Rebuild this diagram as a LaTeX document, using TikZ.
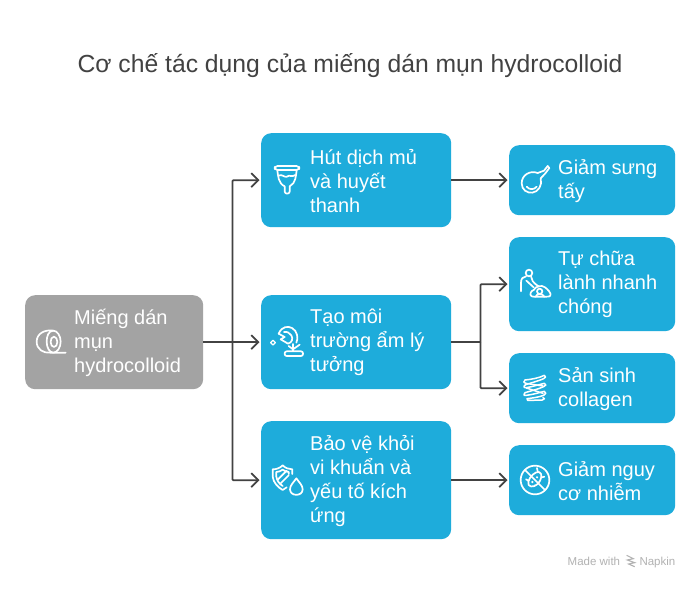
\documentclass[tikz,border=0pt]{standalone}
\usepackage{fontspec}
\setmainfont{Liberation Sans}
\usetikzlibrary{arrows.meta,calc}
\definecolor{bluebox}{HTML}{1EACDB}
\definecolor{graybox}{HTML}{A3A3A3}
\definecolor{linecol}{HTML}{424242}
\tikzset{
  x=1pt,y=-1pt,
  boxbase/.style={rounded corners=10pt,draw=none,inner sep=0pt,anchor=north west},
  bluenode/.style={boxbase,fill=bluebox},
  graynode/.style={boxbase,fill=graybox},
  boxtext/.style={text=white,anchor=west,align=left,inner sep=0pt,yshift=-0.5pt,font=\fontsize{20}{24}\selectfont},
  conn/.style={draw=linecol,line width=1.8pt,shorten >=1.5pt,-{Straight Barb[length=7pt,width=14pt,line width=1.8pt]}},
  connplain/.style={draw=linecol,line width=1.8pt},
  iconline/.style={draw=white,line width=1.7pt,line cap=round,line join=round},
  iconscope/.style={x=0.3333pt,y=-0.3333pt},
  markfont/.style={text=black!30,font=\fontsize{11.5}{13}\selectfont,inner sep=0pt},
}
\begin{document}
\begin{tikzpicture}
\useasboundingbox (0,0) rectangle (700,588);
\fill[white] (0,0) rectangle (700,588);
\node[text=linecol,font=\fontsize{24.7}{28}\selectfont,inner sep=0pt] (title) at (350,66) {Cơ chế tác dụng của miếng dán mụn hydrocolloid};

\node[graynode,minimum width=178pt,minimum height=94pt] (root) at (25,295) {};
\node[bluenode,minimum width=190pt,minimum height=94pt] (a) at (261,133) {};
\node[bluenode,minimum width=190pt,minimum height=94pt] (b) at (261,295) {};
\node[bluenode,minimum width=190pt,minimum height=118pt] (c) at (261,421) {};
\node[bluenode,minimum width=166pt,minimum height=70pt] (r1) at (509,145) {};
\node[bluenode,minimum width=166pt,minimum height=94pt] (r2) at (509,237) {};
\node[bluenode,minimum width=166pt,minimum height=70pt] (r3) at (509,353) {};
\node[bluenode,minimum width=166pt,minimum height=70pt] (r4) at (509,445) {};

\node[boxtext] (roott) at ([xshift=49pt]root.west) {Miếng dán\\mụn\\hydrocolloid};
\node[boxtext] (at) at ([xshift=49pt]a.west) {Hút dịch mủ\\và huyết\\thanh};
\node[boxtext] (bt) at ([xshift=49pt]b.west) {Tạo môi\\trường ẩm lý\\tưởng};
\node[boxtext] (ct) at ([xshift=49pt]c.west) {Bảo vệ khỏi\\vi khuẩn và\\yếu tố kích\\ứng};
\node[boxtext] (r1t) at ([xshift=49pt]r1.west) {Giảm sưng\\tấy};
\node[boxtext] (r2t) at ([xshift=49pt]r2.west) {Tự chữa\\lành nhanh\\chóng};
\node[boxtext] (r3t) at ([xshift=49pt]r3.west) {Sản sinh\\collagen};
\node[boxtext] (r4t) at ([xshift=49pt]r4.west) {Giảm nguy\\cơ nhiễm};

\coordinate (t1) at ($(root.east)+(29,0)$);
\coordinate (t2) at ($(b.east)+(29,0)$);
\draw[conn] (root.east) -- (b.west);
\draw[conn,rounded corners=1pt] (t1) |- (a.west);
\draw[conn,rounded corners=1pt] (t1) |- (c.west);
\draw[conn] (a.east) -- (r1.west);
\draw[connplain] (b.east) -- (t2);
\draw[conn,rounded corners=1pt] (t2) |- (r2.west);
\draw[conn,rounded corners=1pt] (t2) |- (r3.west);
\draw[conn] (c.east) -- (r4.west);

% roll
\begin{scope}[shift={(0,280)},iconscope]
\draw[iconline] (160,152) .. controls (135,148) and (110,160) .. (110,185) .. controls (110,208) and (130,220) .. (150,218) -- (197,218);
\draw[iconline] (160,152) .. controls (145,152) and (140,170) .. (140,185) .. controls (140,202) and (148,218) .. (160,218) .. controls (172,218) and (182,202) .. (182,185) .. controls (182,168) and (172,152) .. (160,152);
\draw[iconline] (162,170) .. controls (155,170) and (152,178) .. (152,186) .. controls (152,194) and (156,201) .. (162,201) .. controls (168,201) and (172,194) .. (172,186) .. controls (172,178) and (168,170) .. (162,170);
\end{scope}
% cup
\begin{scope}[shift={(250,125)},iconscope]
\draw[iconline,rounded corners=3pt] (74,123) -- (148,123) -- (148,135) -- (74,135) -- cycle;
\draw[iconline] (82,135) .. controls (84,150) and (84,175) .. (104,184) -- (104,200) .. controls (105,208) and (118,208) .. (119,200) -- (119,184) .. controls (138,175) and (138,150) .. (140,135);
\draw[iconline] (86,152) .. controls (96,146) and (102,158) .. (111,155) .. controls (118,148) and (126,158) .. (136,150);
\end{scope}
% plant
\begin{scope}[shift={(268,322)},iconscope]
\draw[iconline,line width=1.2pt] (15,55) -- (22,62) -- (15,69) -- (8,62) -- cycle;
\draw[iconline] (32,35) .. controls (42,12) and (60,12) .. (72,18) .. controls (88,26) and (92,50) .. (85,62);
\draw[iconline] (32,35) -- (50,45) -- (38,52) -- (60,65) .. controls (72,62) and (76,50) .. (70,40) .. controls (66,32) and (55,28) .. (48,30);
\draw[iconline] (75,66) -- (75,86);
\draw[iconline] (62,72) -- (75,82) -- (95,68);
\draw[iconline,rounded corners=2pt] (50,88) -- (105,88) -- (105,102) -- (50,102) -- cycle;
\end{scope}
% shield + drop
\begin{scope}[shift={(268,460)},iconscope]
\draw[iconline] (73,42) -- (73,28) .. controls (62,28) and (52,24) .. (44,16) .. controls (36,24) and (26,28) .. (14,28) -- (14,50) .. controls (16,68) and (30,82) .. (44,90) .. controls (48,88) and (52,85) .. (56,82);
\draw[iconline] (62,42) -- (62,36) .. controls (55,36) and (50,33) .. (44,29) .. controls (38,33) and (32,36) .. (25,36) -- (25,50) .. controls (27,62) and (34,72) .. (44,78);
\draw[iconline] (30,58) -- (56,32);
\draw[iconline] (38,70) -- (62,46);
\draw[iconline] (85,55) .. controls (76,68) and (66,76) .. (66,88) .. controls (66,110) and (104,110) .. (104,88) .. controls (104,76) and (94,68) .. (85,55) -- cycle;
\end{scope}
% bulb
\begin{scope}[shift={(500,140)},iconscope]
\draw[iconline] (113,99) .. controls (90,90) and (65,105) .. (65,130) .. controls (65,150) and (82,160) .. (97,158) .. controls (115,156) and (128,135) .. (122,115);
\draw[iconline] (113,99) -- (132,92) -- (143,78) -- (148,84) -- (136,100) -- (122,115);
\draw[iconline] (80,140) .. controls (88,150) and (102,150) .. (110,140);
\end{scope}
% person
\begin{scope}[shift={(515,262)},iconscope]
\draw[iconline] (42,33) circle[radius=10];
\draw[iconline] (18,88) -- (18,62) .. controls (18,50) and (24,44) .. (33,43);
\draw[iconline] (48,43) .. controls (50,55) and (52,60) .. (72,74);
\draw[iconline] (34,56) -- (56,76);
\draw[iconline] (50,103) .. controls (42,98) and (48,86) .. (56,84) .. controls (62,72) and (80,68) .. (90,76) .. controls (98,82) and (110,94) .. (106,101) .. controls (104,104) and (100,104) .. (95,104) -- (56,104) -- cycle;
\draw[iconline] (74,88) circle[radius=8];
\draw[iconline] (62,104) .. controls (64,94) and (84,94) .. (88,104);
\end{scope}
% collagen
\begin{scope}[shift={(515,366)},iconscope]
\draw[iconline,line width=1.5pt] (30,42) .. controls (50,40) and (72,36) .. (88,28) .. controls (94,30) and (92,36) .. (86,38) .. controls (70,45) and (50,50) .. (32,56) .. controls (24,60) and (26,66) .. (34,65) .. controls (52,62) and (72,56) .. (88,52) .. controls (94,54) and (94,60) .. (86,62) .. controls (68,70) and (50,74) .. (30,80) .. controls (24,84) and (26,90) .. (34,88) .. controls (52,86) and (72,80) .. (88,76) .. controls (94,78) and (94,86) .. (86,88) .. controls (70,94) and (52,96) .. (36,98) .. controls (32,104) and (40,104) .. (50,103) -- (82,102) .. controls (90,100) and (90,96) .. (84,95);
\draw[iconline,line width=1.5pt] (30,42) .. controls (24,46) and (26,52) .. (32,52) -- (84,60);
\draw[iconline,line width=1.5pt] (34,66) -- (84,82);
\end{scope}
% virus
\begin{scope}[shift={(515,460)},iconscope]
\draw[iconline] (60,60) circle[radius=43];
\draw[iconline] (30,30) -- (90,90);
\draw[iconline] (40,65) .. controls (44,50) and (60,34) .. (72,36) .. controls (84,40) and (80,60) .. (68,72) .. controls (56,84) and (36,82) .. (40,65) -- cycle;
\fill[white] (52,66) circle[radius=4] (66,52) circle[radius=3.5] (58,76) circle[radius=2.5];
\draw[iconline] (33,58) -- (41,62) (66,24) -- (68,34) (88,50) -- (80,52);
\end{scope}
% watermark
\node[markfont,anchor=base west] (made) at (567.5,565) {Made with};
\node[markfont,anchor=base east] (napkin) at (675.5,565) {Napkin};
\begin{scope}[shift={(620,550)},iconscope]
\draw[draw=black!30,line width=1.1pt] (20,16) -- (40,26) -- (22,30) -- (44,38) -- (26,42) -- (44,50);
\end{scope}
\end{tikzpicture}
\end{document}
